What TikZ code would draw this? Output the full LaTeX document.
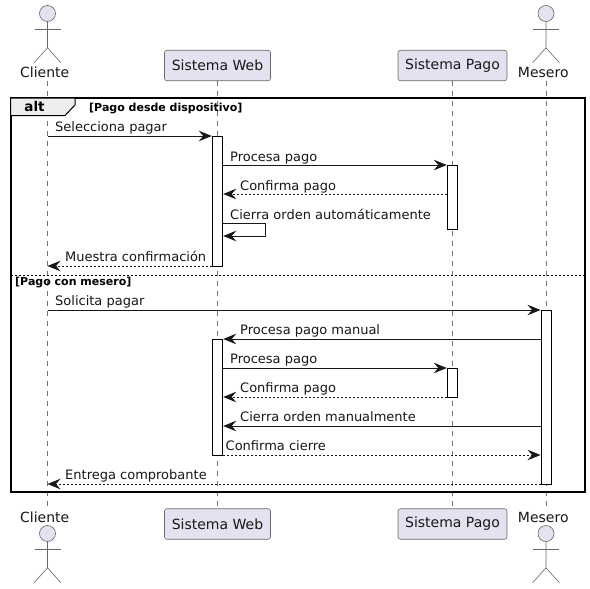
\documentclass[tikz,border=0pt]{standalone}
\usepackage{fontspec}
\setmainfont{DejaVu Sans}
\usetikzlibrary{arrows.meta}
\definecolor{actorfill}{HTML}{E2E2F0}
\definecolor{inkline}{HTML}{181818}
\definecolor{tabfill}{HTML}{EEEEEE}
\tikzset{
	msgtip/.tip={Stealth[length=13pt,width=10.5pt,inset=4.5pt]},
	msg/.style={draw=inkline,line width=0.9pt,-msgtip},
	reply/.style={msg,dash pattern=on 2pt off 2pt},
	lifeline/.style={draw=inkline!60,line width=0.6pt,dash pattern=on 5pt off 5pt},
	actorline/.style={draw=inkline!65,line width=0.6pt},
	head/.style={circle,draw=inkline!65,line width=0.6pt,fill=actorfill,minimum size=16pt,inner sep=0pt},
	partbox/.style={rectangle,rounded corners=2.5pt,draw=inkline!65,line width=0.6pt,fill=actorfill,minimum height=30.5pt,font=\fontsize{14}{16}\selectfont,text=inkline},
	actorname/.style={anchor=base,inner sep=0pt,text height=15pt,text depth=3pt,font=\fontsize{14}{16}\selectfont,text=inkline},
	actbar/.style={rectangle,draw=black,line width=0.9pt,fill=white,minimum width=10.5pt,inner sep=0pt},
	msgtext/.style={anchor=base west,inner sep=0pt,font=\fontsize{13}{15}\selectfont,text=inkline},
	guard/.style={anchor=base west,inner sep=0pt,font=\bfseries\fontsize{11}{13}\selectfont,text=black},
}
\begin{document}
\begin{tikzpicture}[x=1pt,y=-1pt]
	\useasboundingbox (0,0) rectangle (590,589);
	\fill[white] (0,0) rectangle (590,589);

	\foreach \n/\y in {sel/136,proA/165,conA/194,autoA/223,autoB/236,mue/266,divi/275,sol/310,man/339,proB/368,conB/397,cieM/426,conC/455,ent/484}
		\coordinate (\n) at (0,\y);

	\node[head] (clienteHead) at (47.5,13.5) {};
	\node[head] (meseroHead) at (546,13.5) {};
	\node[head] (clienteHeadB) at (47.5,533.5) {};
	\node[head] (meseroHeadB) at (546,533.5) {};
	\foreach \h in {clienteHead,meseroHead,clienteHeadB,meseroHeadB} {
		\draw[actorline] (\h.south) -- ++(0,26) -- ++(-13.5,15);
		\draw[actorline] (\h.south) ++(0,26) -- ++(13.5,15);
		\draw[actorline] (\h.south) ++(-13,7.5) -- ++(26,0);
	}
	\node[actorname] (clienteTop) at (44.7,77.5) {Cliente};
	\node[actorname] (meseroTop) at (543.3,77.5) {Mesero};
	\node[actorname] (clienteBot) at (44.7,522) {Cliente};
	\node[actorname] (meseroBot) at (543.3,522) {Mesero};
	\node[partbox,minimum width=106pt] (webTop) at (217.5,65.5) {Sistema Web};
	\node[partbox,minimum width=109pt] (pagoTop) at (452.5,65.5) {Sistema Pago};
	\node[partbox,minimum width=106pt] (webBot) at (217.5,524) {Sistema Web};
	\node[partbox,minimum width=109pt] (pagoBot) at (452.5,524) {Sistema Pago};

	\draw[lifeline] (clienteHead |- clienteTop.south) -- (clienteHead |- clienteBot.north);
	\draw[lifeline] (webTop.south) -- (webBot.north);
	\draw[lifeline] (pagoTop.south) -- (pagoBot.north);
	\draw[lifeline] (meseroHead |- meseroTop.south) -- (meseroHead |- meseroBot.north);

	\node[rectangle,draw=black,line width=2pt,minimum width=574pt,minimum height=393.5pt,inner sep=0pt,outer sep=0pt] (altFrame) at (297.5,294.75) {};
	\draw[black,line width=1pt,fill=tabfill] (altFrame.north west) -- ++(64.5,0) -- ++(0,7) -- ++(-10,10.5) -- ++(-54.5,0) -- cycle;
	\node[anchor=base,inner sep=0pt,font=\bfseries\fontsize{13.5}{15}\selectfont] (altTag) at (34.5,111) {alt};
	\node[guard] (guardA) at (89,111) {[Pago desde dispositivo]};
	\draw[black,line width=0.8pt,dash pattern=on 2pt off 2pt] (altFrame.west |- divi) -- (altFrame.east |- divi);
	\node[guard] (guardB) at (15,285) {[Pago con mesero]};

	\node[actbar,minimum height=130.5pt] (webBarA) at (217.5,201.25) {};
	\node[actbar,minimum height=64.5pt] (pagoBarA) at (452.5,197.25) {};
	\node[actbar,minimum height=174.5pt] (meseroBar) at (546.25,397.25) {};
	\node[actbar,minimum height=116.5pt] (webBarB) at (217.5,397.25) {};
	\node[actbar,minimum height=29.5pt] (pagoBarB) at (452.5,382.75) {};

	\draw[msg] (clienteHead |- sel) -- (webBarA.west |- sel);
	\draw[msg] (webBarA.east |- proA) -- (pagoBarA.west |- proA);
	\draw[reply] (pagoBarA.west |- conA) -- (webBarA.east |- conA);
	\draw[msg] (webBarA.east |- autoA) -- ++(42,0) |- (webBarA.east |- autoB);
	\draw[reply] (webBarA.west |- mue) -- (clienteHead |- mue);
	\draw[msg] (clienteHead |- sol) -- (meseroBar.west |- sol);
	\draw[msg] (meseroBar.west |- man) -- (webBarB.east |- man);
	\draw[msg] (webBarB.east |- proB) -- (pagoBarB.west |- proB);
	\draw[reply] (pagoBarB.west |- conB) -- (webBarB.east |- conB);
	\draw[msg] (meseroBar.west |- cieM) -- (webBarB.east |- cieM);
	\draw[reply] (webBarB.east |- conC) -- (meseroBar.west |- conC);
	\draw[reply] (meseroBar.west |- ent) -- (clienteHead |- ent);

	\node[msgtext] (selText) at (55,131) {Selecciona pagar};
	\node[msgtext] (proAText) at (230,161) {Procesa pago};
	\node[msgtext] (conAText) at (240,190) {Confirma pago};
	\node[msgtext] (autoText) at (230,219) {Cierra orden automáticamente};
	\node[msgtext] (mueText) at (65,261) {Muestra confirmación};
	\node[msgtext] (solText) at (55,305) {Solicita pagar};
	\node[msgtext] (manText) at (240,334) {Procesa pago manual};
	\node[msgtext] (proBText) at (230,363) {Procesa pago};
	\node[msgtext] (conBText) at (240,392) {Confirma pago};
	\node[msgtext] (cieText) at (240,421) {Cierra orden manualmente};
	\node[msgtext] (conCText) at (225.5,450.5) {Confirma cierre};
	\node[msgtext] (entText) at (65,479) {Entrega comprobante};
\end{tikzpicture}
\end{document}
